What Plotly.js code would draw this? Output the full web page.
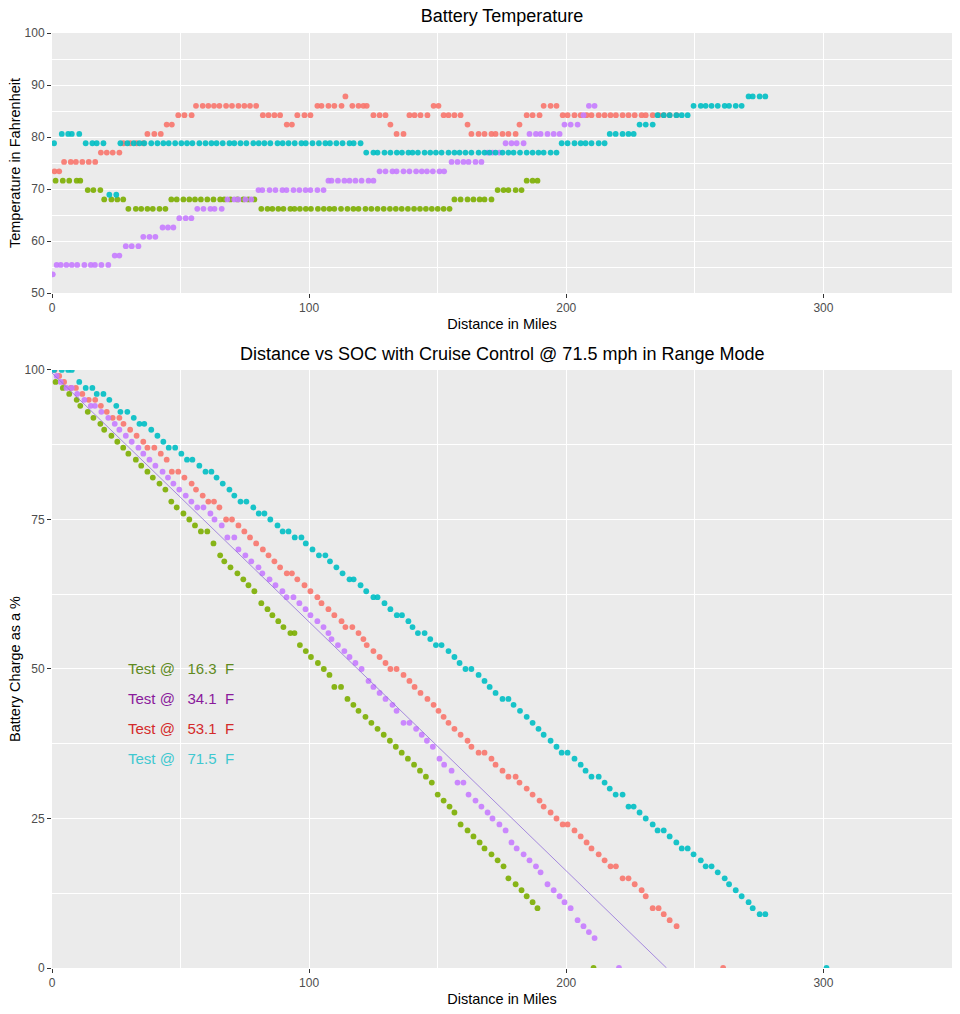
<!DOCTYPE html>
<html>
<head>
<meta charset="utf-8">
<script src="https://cdn.plot.ly/plotly-3.0.1.min.js"></script>
<style>
  html, body { margin: 0; padding: 0; background: #ffffff; }
  #chart { width: 960px; height: 1014px; }
</style>
</head>
<body>
<div id="chart"></div>
<script>
// ---- Test runs: ambient temperature of each run (deg F) ----
const testTemps = [16.3, 34.1, 53.1, 71.5];

// ---- 16.3 F run ----
const greenMiles = [
  1.4, 4.2, 6.7, 9.6, 11.0, 13.9, 16.1, 18.8, 20.3, 23.1,
  25.4, 27.7, 29.7, 32.6, 34.7, 37.1, 39.2, 41.8, 44.1, 46.4,
  48.5, 51.1, 53.4, 55.6, 57.9, 60.4, 62.8, 65.4, 67.0, 69.4,
  72.1, 74.4, 76.4, 78.7, 81.4, 83.8, 85.7, 88.0, 90.0, 92.7,
  94.3, 96.4, 98.7, 100.7, 103.4, 105.7, 107.9, 109.8, 112.4, 114.9,
  117.2, 119.2, 121.9, 124.2, 126.6, 129.0, 131.4, 133.7, 136.0, 138.4,
  140.8, 143.1, 145.4, 147.7, 150.0, 152.3, 154.6, 156.5, 158.9, 161.6,
  163.9, 166.3, 168.2, 170.9, 173.3, 175.6, 177.5, 180.3, 182.6, 184.6,
  186.9, 188.8
];
const greenSoc = [
  98, 97, 96, 95, 94, 93, 92, 91, 90, 89,
  88, 87, 86, 85, 84, 83, 82, 81, 80, 78,
  77, 76, 75, 74, 73, 73, 71, 69, 68, 67,
  66, 65, 64, 63, 61, 60, 59, 58, 57, 56,
  56, 54, 53, 52, 51, 50, 49, 47, 47, 45,
  44, 43, 42, 41, 40, 39, 38, 37, 36, 35,
  34, 33, 32, 31, 29, 28, 27, 26, 24, 23,
  22, 21, 20, 19, 18, 17, 15, 14, 13, 12,
  11, 10
];
const greenTempF = [
  71.6, 71.6, 71.6, 71.6, 71.6, 69.8, 69.8, 69.8, 68, 68,
  68, 68, 66.2, 66.2, 66.2, 66.2, 66.2, 66.2, 66.2, 68,
  68, 68, 68, 68, 68, 68, 68, 68, 68, 68,
  68, 68, 68, 68, 66.2, 66.2, 66.2, 66.2, 66.2, 66.2,
  66.2, 66.2, 66.2, 66.2, 66.2, 66.2, 66.2, 66.2, 66.2, 66.2,
  66.2, 66.2, 66.2, 66.2, 66.2, 66.2, 66.2, 66.2, 66.2, 66.2,
  66.2, 66.2, 66.2, 66.2, 66.2, 66.2, 66.2, 68, 68, 68,
  68, 68, 68, 68, 69.8, 69.8, 69.8, 69.8, 69.8, 71.6,
  71.6, 71.6
];

// ---- 34.1 F run ----
const purpleMiles = [
  0.3, 1.8, 3.4, 5.6, 7.7, 9.8, 12.6, 15.1, 16.7, 19.2,
  21.9, 24.4, 26.2, 28.7, 31.0, 33.6, 35.5, 37.9, 40.2, 43.0,
  45.1, 47.2, 49.5, 52.0, 54.2, 56.5, 58.9, 61.6, 63.2, 66.0,
  68.2, 70.9, 72.5, 75.2, 77.5, 80.3, 81.8, 84.6, 86.9, 89.6,
  91.2, 93.9, 96.2, 98.6, 100.5, 103.2, 105.6, 107.5, 108.7, 111.2,
  113.7, 115.7, 118.0, 120.4, 123.1, 125.0, 127.4, 129.7, 132.4, 134.0,
  136.7, 139.0, 141.6, 143.8, 145.8, 148.1, 150.7, 152.5, 155.4, 157.7,
  160.0, 162.0, 164.7, 167.0, 169.4, 171.3, 174.0, 176.4, 178.7, 180.7,
  183.4, 185.7, 188.2, 190.0, 192.7, 195.1, 197.4, 199.3, 201.7, 204.4,
  206.7, 208.8, 211.0
];
const purpleSoc = [
  100, 99, 98, 97, 97, 96, 95, 94, 94, 93,
  92, 91, 90, 89, 88, 87, 86, 85, 84, 83,
  82, 81, 80, 79, 78, 77, 77, 76, 75, 74,
  72, 72, 70, 69, 68, 67, 66, 65, 64, 63,
  62, 62, 61, 60, 59, 58, 57, 56, 55, 54,
  53, 52, 51, 50, 48, 47, 46, 45, 44, 43,
  41, 41, 40, 39, 38, 37, 35, 34, 33, 31,
  31, 29, 28, 27, 26, 25, 24, 23, 21, 20,
  19, 18, 17, 16, 14, 13, 12, 11, 10, 8,
  7, 6, 5
];
const purpleTempF = [
  53.6, 55.4, 55.4, 55.4, 55.4, 55.4, 55.4, 55.4, 55.4, 55.4,
  55.4, 57.2, 57.2, 59, 59, 59, 60.8, 60.8, 60.8, 62.6,
  62.6, 62.6, 64.4, 64.4, 64.4, 66.2, 66.2, 66.2, 66.2, 66.2,
  68, 68, 68, 68, 68, 69.8, 69.8, 69.8, 69.8, 69.8,
  69.8, 69.8, 69.8, 69.8, 69.8, 69.8, 69.8, 71.6, 71.6, 71.6,
  71.6, 71.6, 71.6, 71.6, 71.6, 71.6, 73.4, 73.4, 73.4, 73.4,
  73.4, 73.4, 73.4, 73.4, 73.4, 73.4, 73.4, 73.4, 75.2, 75.2,
  75.2, 75.2, 75.2, 75.2, 77, 77, 77, 78.8, 78.8, 78.8,
  78.8, 80.6, 80.6, 80.6, 80.6, 80.6, 80.6, 82.4, 82.4, 82.4,
  84.2, 86, 86
];

// ---- 53.1 F run ----
const redMiles = [
  1.0, 2.8, 4.7, 7.3, 9.3, 11.8, 14.3, 16.8, 19.0, 21.3,
  23.6, 26.2, 27.8, 30.4, 32.9, 35.5, 37.1, 39.8, 42.3, 44.6,
  46.6, 49.1, 51.5, 54.3, 56.0, 58.6, 60.8, 63.0, 65.1, 67.7,
  70.0, 72.5, 74.8, 77.0, 79.4, 82.0, 84.2, 86.5, 88.7, 91.3,
  93.3, 95.4, 98.2, 100.5, 103.2, 104.8, 107.5, 109.8, 112.6, 114.1,
  116.8, 119.2, 121.1, 122.4, 125.0, 127.4, 129.7, 131.6, 134.0, 136.7,
  139.0, 141.0, 143.3, 146.0, 148.4, 150.3, 152.3, 154.2, 156.5, 158.9,
  161.6, 163.1, 165.9, 168.2, 170.9, 172.5, 175.2, 177.5, 180.3, 181.8,
  184.6, 186.9, 189.6, 191.2, 193.9, 196.2, 198.6, 200.5, 203.2, 205.6,
  207.9, 209.8, 212.6, 214.9, 217.2, 219.3, 221.9, 224.2, 226.6, 229.3,
  230.9, 233.6, 235.9, 237.9, 240.2, 242.9
];
const redSoc = [
  100, 99, 98, 97, 97, 96, 95, 95, 94, 93,
  92, 92, 91, 90, 89, 88, 87, 87, 86, 85,
  83, 83, 82, 81, 80, 79, 78, 78, 77, 75,
  75, 74, 73, 72, 71, 70, 69, 68, 67, 66,
  66, 65, 64, 63, 62, 61, 60, 59, 58, 57,
  57, 56, 55, 54, 53, 52, 51, 50, 50, 49,
  48, 47, 46, 45, 44, 43, 42, 41, 40, 39,
  38, 37, 36, 36, 35, 34, 33, 32, 32, 31,
  30, 29, 28, 27, 26, 25, 24, 24, 23, 22,
  21, 20, 19, 18, 17, 17, 15, 15, 14, 13,
  12, 10, 10, 9, 8, 7
];
const redTempF = [
  73.4, 73.4, 75.2, 75.2, 75.2, 75.2, 75.2, 75.2, 77, 77,
  77, 77, 78.8, 78.8, 78.8, 78.8, 80.6, 80.6, 80.6, 82.4,
  82.4, 84.2, 84.2, 84.2, 86, 86, 86, 86, 86, 86,
  86, 86, 86, 86, 86, 84.2, 84.2, 84.2, 84.2, 82.4,
  82.4, 84.2, 84.2, 84.2, 86, 86, 86, 86, 86, 87.8,
  86, 86, 86, 86, 84.2, 84.2, 84.2, 82.4, 80.6, 80.6,
  84.2, 84.2, 84.2, 84.2, 86, 86, 84.2, 84.2, 84.2, 84.2,
  82.4, 80.6, 80.6, 80.6, 80.6, 80.6, 80.6, 80.6, 80.6, 82.4,
  84.2, 84.2, 84.2, 86, 86, 86, 84.2, 84.2, 84.2, 84.2,
  84.2, 84.2, 84.2, 84.2, 84.2, 84.2, 84.2, 84.2, 84.2, 84.2,
  84.2, 84.2, 84.2, 84.2, 84.2, 84.2
];

// ---- 71.5 F run ----
const cyanMiles = [
  0.8, 3.8, 6.3, 7.7, 10.6, 13.1, 15.7, 17.4, 20.0, 22.3,
  25.0, 26.6, 29.3, 31.8, 34.0, 35.9, 38.6, 41.0, 43.3, 45.4,
  47.9, 50.3, 52.5, 54.6, 57.3, 59.7, 62.0, 64.0, 66.4, 69.0,
  70.9, 73.3, 75.6, 78.3, 80.4, 82.6, 84.9, 87.7, 89.7, 92.0,
  94.4, 97.0, 98.7, 101.3, 103.8, 106.3, 108.1, 110.6, 113.0, 115.7,
  117.3, 120.0, 122.2, 125.0, 126.6, 129.3, 131.6, 134.1, 136.1, 138.6,
  140.2, 142.3, 144.9, 147.1, 149.3, 151.5, 154.2, 156.5, 158.5, 160.8,
  163.1, 165.9, 168.2, 170.2, 172.5, 175.2, 177.5, 179.5, 182.0, 184.6,
  186.9, 189.2, 191.2, 193.9, 196.2, 198.2, 200.5, 203.2, 205.6, 207.5,
  209.8, 212.6, 214.9, 216.9, 219.2, 221.9, 224.2, 226.2, 228.5, 230.9,
  233.6, 235.5, 237.9, 240.2, 242.8, 244.9, 247.2, 249.5, 252.3, 254.2,
  256.5, 258.9, 261.6, 263.3, 265.9, 268.2, 270.9, 272.5, 275.2, 277.4
];
const cyanSoc = [
  100, 100, 100, 100, 98, 97, 97, 96, 96, 95,
  94, 93, 93, 92, 91, 91, 90, 89, 88, 87,
  87, 86, 85, 85, 84, 83, 83, 82, 81, 80,
  79, 78, 78, 77, 76, 76, 75, 74, 73, 73,
  72, 72, 71, 70, 69, 69, 68, 67, 66, 65,
  65, 64, 63, 62, 62, 61, 60, 59, 59, 58,
  57, 56, 56, 55, 54, 54, 53, 52, 51, 50,
  50, 49, 48, 47, 46, 45, 45, 44, 43, 42,
  41, 40, 39, 38, 37, 36, 36, 35, 34, 33,
  32, 32, 31, 30, 29, 29, 27, 27, 26, 25,
  24, 23, 23, 22, 21, 20, 20, 19, 18, 17,
  17, 16, 15, 14, 13, 12, 11, 10, 9, 9
];
const cyanTempF = [
  78.8, 80.6, 80.6, 80.6, 80.6, 78.8, 78.8, 78.8, 78.8, 68.9,
  68.9, 78.8, 78.8, 78.8, 78.8, 78.8, 78.8, 78.8, 78.8, 78.8,
  78.8, 78.8, 78.8, 78.8, 78.8, 78.8, 78.8, 78.8, 78.8, 78.8,
  78.8, 78.8, 78.8, 78.8, 78.8, 78.8, 78.8, 78.8, 78.8, 78.8,
  78.8, 78.8, 78.8, 78.8, 78.8, 78.8, 78.8, 78.8, 78.8, 78.8,
  78.8, 78.8, 77, 77, 77, 77, 77, 77, 77, 77,
  77, 77, 77, 77, 77, 77, 77, 77, 77, 77,
  77, 77, 77, 77, 77, 77, 77, 77, 77, 77,
  77, 77, 77, 77, 77, 78.8, 78.8, 78.8, 78.8, 78.8,
  78.8, 78.8, 78.8, 80.6, 80.6, 80.6, 80.6, 80.6, 82.4, 82.4,
  82.4, 84.2, 84.2, 84.2, 84.2, 84.2, 84.2, 86, 86, 86,
  86, 86, 86, 86, 86, 86, 87.8, 87.8, 87.8, 87.8
];

// Miles at which each run's pack reached 0 % (order: 16.3, 34.1, 53.1, 71.5)
const emptyMiles = [210.6, 220.5, 261.0, 301.2];

// Straight-line fit drawn over the 34.1 F run
const fitMiles = [0, 239];
const fitSoc = [99.5, 0];

// ---- styling ----
const FONT = '"Liberation Sans", Arial, Helvetica, sans-serif';
const pointColors = ['#7CAE00', '#C77CFF', '#F8766D', '#00BFC4'];
const labelColors = ['#5f8a1e', '#8a1a9b', '#d42a2a', '#3ec8d0'];

const runs = [
  { miles: greenMiles, soc: greenSoc, temp: greenTempF },
  { miles: purpleMiles, soc: purpleSoc, temp: purpleTempF },
  { miles: redMiles, soc: redSoc, temp: redTempF },
  { miles: cyanMiles, soc: cyanSoc, temp: cyanTempF }
];
// drawing order: red, green, purple, cyan on top
const drawOrder = [2, 0, 1, 3];

const traces = [];
drawOrder.forEach(function (i) {
  const r = runs[i];
  traces.push({
    type: 'scatter', mode: 'markers',
    x: r.miles, y: r.temp, xaxis: 'x', yaxis: 'y',
    marker: { color: pointColors[i], size: 5.8, opacity: 0.9 },
    cliponaxis: true, showlegend: false, hoverinfo: 'skip'
  });
});
drawOrder.forEach(function (i) {
  const r = runs[i];
  traces.push({
    type: 'scatter', mode: 'markers',
    x: r.miles.concat([emptyMiles[i]]), y: r.soc.concat([0]),
    xaxis: 'x2', yaxis: 'y2',
    marker: { color: pointColors[i], size: 5.8, opacity: 0.9 },
    cliponaxis: true, showlegend: false, hoverinfo: 'skip'
  });
});
traces.push({
  type: 'scatter', mode: 'lines',
  x: fitMiles, y: fitSoc, xaxis: 'x2', yaxis: 'y2',
  line: { color: '#9370DB', width: 0.8 },
  cliponaxis: true, showlegend: false, hoverinfo: 'skip'
});

const tickFont = { family: FONT, size: 12, color: '#4d4d4d' };
const titleFont = { family: FONT, size: 14.5, color: '#000000' };

function xAxis(anchor) {
  return {
    anchor: anchor, domain: [0, 1], range: [0, 350],
    tickmode: 'array', tickvals: [0, 100, 200, 300],
    showgrid: true, gridcolor: '#ffffff', gridwidth: 1.1,
    minor: { tickmode: 'linear', tick0: 50, dtick: 100, showgrid: true, gridcolor: '#ffffff', gridwidth: 0.5 },
    zeroline: false, showline: false,
    ticks: 'outside', ticklen: 4, tickwidth: 1, tickcolor: '#333333',
    tickfont: tickFont,
    title: { text: 'Distance in Miles', font: titleFont, standoff: 4 }
  };
}

const layout = {
  width: 960, height: 1014,
  margin: { l: 52, r: 8, t: 33, b: 46 },
  paper_bgcolor: '#ffffff', plot_bgcolor: '#EBEBEB',
  font: { family: FONT },
  showlegend: false,
  title: {
    text: 'Battery Temperature',
    font: { family: FONT, size: 18, color: '#000000' },
    x: 0.5, xref: 'paper', xanchor: 'center',
    y: 1 - 16 / 1014, yref: 'container', yanchor: 'middle'
  },
  xaxis: xAxis('y'),
  xaxis2: xAxis('y2'),
  yaxis: {
    anchor: 'x', domain: [0.7219, 1], range: [50, 100],
    tickmode: 'linear', tick0: 50, dtick: 10,
    showgrid: true, gridcolor: '#ffffff', gridwidth: 1.1,
    minor: { tickmode: 'linear', tick0: 55, dtick: 10, showgrid: true, gridcolor: '#ffffff', gridwidth: 0.5 },
    zeroline: false, showline: false,
    ticks: 'outside', ticklen: 4, tickwidth: 1, tickcolor: '#333333',
    tickfont: tickFont,
    title: { text: 'Temperature in Fahrenheit', font: titleFont, standoff: 0 }
  },
  yaxis2: {
    anchor: 'x2', domain: [0, 0.6396], range: [0, 100],
    tickmode: 'array', tickvals: [0, 25, 50, 75, 100],
    showgrid: true, gridcolor: '#ffffff', gridwidth: 1.1,
    minor: { tickmode: 'linear', tick0: 12.5, dtick: 25, showgrid: true, gridcolor: '#ffffff', gridwidth: 0.5 },
    zeroline: false, showline: false,
    ticks: 'outside', ticklen: 4, tickwidth: 1, tickcolor: '#333333',
    tickfont: tickFont,
    title: { text: 'Battery Charge as a %', font: titleFont, standoff: 0 }
  },
  annotations: []
};

// second panel title
layout.annotations.push({
  text: 'Distance vs SOC with Cruise Control @ 71.5 mph in Range Mode',
  xref: 'paper', yref: 'paper', x: 0.5, y: (968 - 354) / 935,
  xanchor: 'center', yanchor: 'middle', showarrow: false,
  font: { family: FONT, size: 18, color: '#000000' }
});

// run labels inside the SOC panel
const labelY = [50, 45, 40, 35];
const NB = '\u00a0';
testTemps.forEach(function (t, i) {
  layout.annotations.push({
    text: 'Test @' + NB + NB + NB + t.toFixed(1) + NB + NB + 'F',
    xref: 'x2', yref: 'y2', x: 50, y: labelY[i],
    xanchor: 'center', yanchor: 'middle', showarrow: false,
    font: { family: FONT, size: 15, color: labelColors[i] }
  });
});

Plotly.newPlot('chart', traces, layout, { displayModeBar: false, responsive: false });
</script>
</body>
</html>
